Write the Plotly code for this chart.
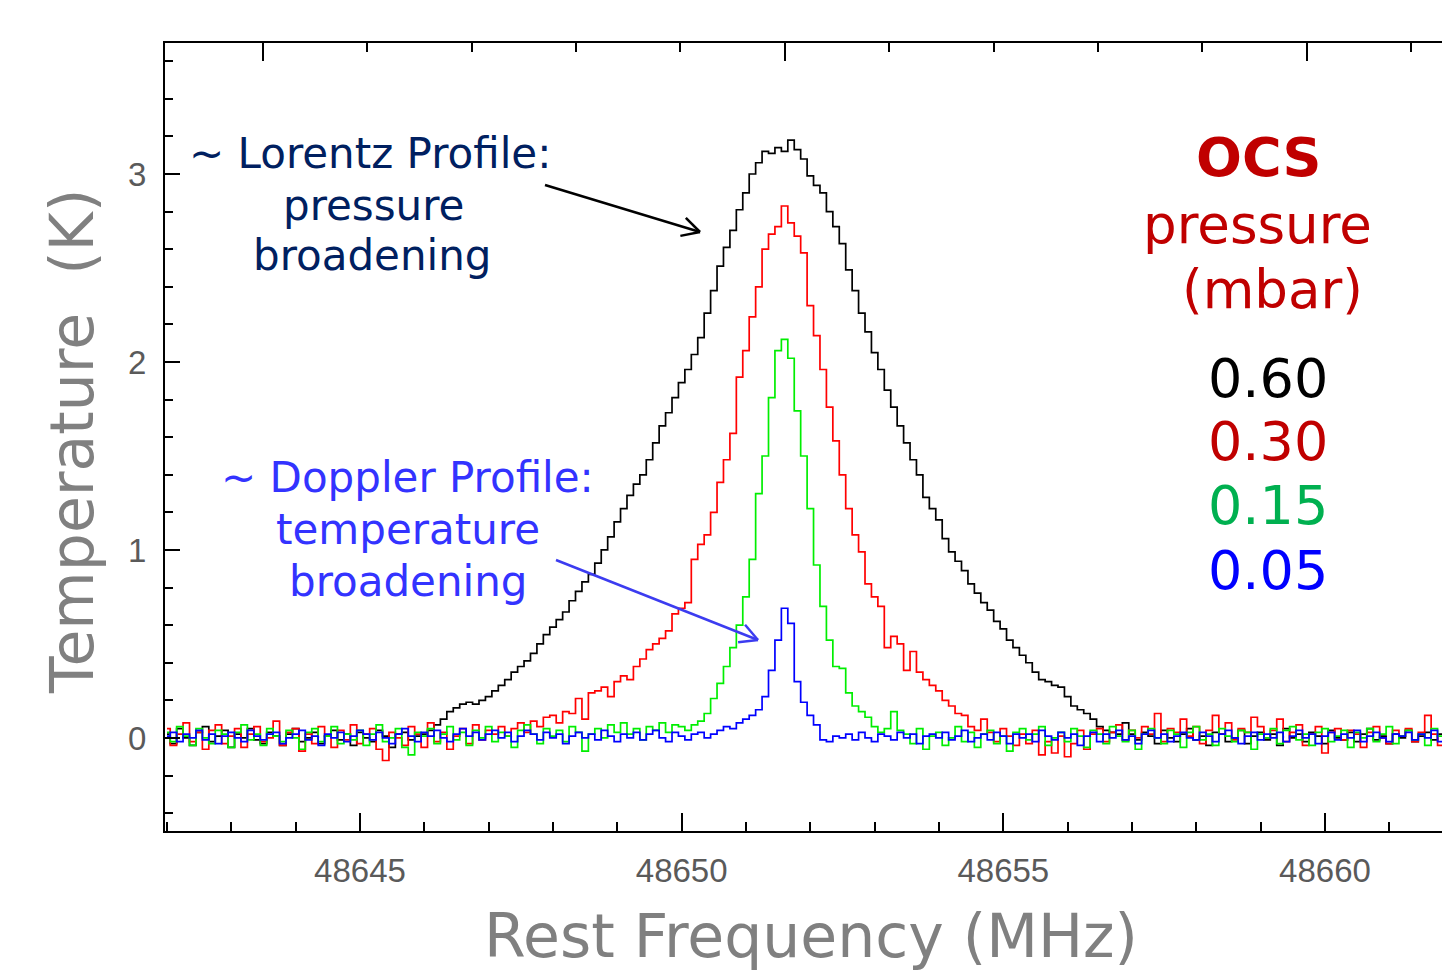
import math
import plotly.graph_objects as go

# ---------------- data ----------------
freq_start = 48642.0      # MHz, first channel
channel_width = 0.1       # MHz
rest_freq = 48651.604     # MHz, OCS line (top velocity axis reference)
c_kms = 299792.458

# 0.60 mbar (black)
black_060 = [
    # 48642.0 - 48645.9 baseline
    0.02, -0.03, 0.05, 0.00, -0.04, 0.03, 0.06, -0.02, 0.01, 0.04,
    -0.05, 0.02, 0.00, 0.05, -0.01, -0.03, 0.03, 0.01, -0.04, 0.02,
    0.05, -0.02, 0.00, 0.03, -0.03, 0.01, 0.04, -0.01, 0.02, -0.04,
    0.03, 0.00, -0.02, 0.04, 0.01, -0.05, 0.02, 0.03, -0.01, 0.01,
    # 48646.0 - 48657.0 line
    0.02, 0.04, 0.07, 0.10, 0.14, 0.16, 0.18, 0.19, 0.18, 0.20,
    0.22, 0.25, 0.28, 0.31, 0.35, 0.38, 0.41, 0.45, 0.50, 0.55,
    0.59, 0.63, 0.67, 0.73, 0.78, 0.83, 0.87, 0.93, 1.00, 1.07,
    1.15, 1.22, 1.29, 1.35, 1.40, 1.48, 1.57, 1.66, 1.73, 1.81,
    1.89, 1.96, 2.04, 2.13, 2.26, 2.38, 2.51, 2.61, 2.70, 2.81,
    2.90, 3.00, 3.06, 3.12, 3.11, 3.14, 3.12, 3.18, 3.13, 3.08,
    2.99, 2.94, 2.90, 2.80, 2.72, 2.63, 2.49, 2.38, 2.26, 2.16,
    2.05, 1.96, 1.85, 1.76, 1.66, 1.57, 1.48, 1.40, 1.28, 1.22,
    1.16, 1.06, 0.99, 0.94, 0.89, 0.82, 0.77, 0.72, 0.68, 0.62,
    0.58, 0.52, 0.48, 0.44, 0.40, 0.35, 0.31, 0.30, 0.28, 0.27,
    0.22, 0.17, 0.15, 0.13, 0.10, 0.06, 0.04, 0.03, 0.02, 0.08,
    0.02,
    # 48657.1 - 48661.9 baseline
    -0.01, 0.03, 0.01, -0.03, 0.04, 0.00, -0.02, 0.02, 0.05, -0.01,
    0.01, -0.04, 0.03, 0.02, -0.02, 0.00, 0.04, -0.03, 0.01, 0.03,
    -0.01, 0.02, -0.04, 0.05, 0.00, 0.02, -0.02, 0.03, 0.01, -0.03,
    0.04, 0.00, -0.01, 0.03, -0.02, 0.02, 0.05, -0.01, 0.01, -0.03,
    0.02, 0.00, 0.04, -0.02, 0.01, 0.03, -0.01, 0.02, 0.00,
]

# 0.30 mbar (red)
red_030 = [
    # 48642.0 - 48646.9 baseline
    0.05, -0.04, 0.02, 0.08, -0.02, 0.03, -0.06, 0.04, 0.07, -0.03,
    0.01, 0.05, -0.05, 0.02, 0.06, -0.02, 0.00, 0.09, -0.04, 0.03,
    0.05, -0.07, 0.02, -0.03, 0.06, 0.01, -0.05, 0.04, -0.01, 0.07,
    -0.03, 0.02, 0.05, -0.06, -0.12, 0.03, 0.00, -0.04, 0.06, 0.02,
    -0.05, 0.08, -0.02, 0.03, -0.06, 0.01, 0.05, -0.03, 0.07, -0.01,
    # 48647.0 - 48654.7 line
    0.04, 0.02, 0.06, 0.01, 0.05, 0.08, 0.03, 0.09, 0.06, 0.11,
    0.12, 0.08, 0.14, 0.13, 0.21, 0.10, 0.24, 0.25, 0.27, 0.22,
    0.30, 0.33, 0.31, 0.38, 0.42, 0.47, 0.50, 0.53, 0.57, 0.66,
    0.69, 0.72, 0.95, 1.03, 1.08, 1.20, 1.36, 1.48, 1.62, 1.92,
    2.06, 2.24, 2.40, 2.60, 2.68, 2.72, 2.83, 2.74, 2.67, 2.58,
    2.30, 2.14, 1.96, 1.76, 1.58, 1.40, 1.22, 1.08, 0.99, 0.82,
    0.75, 0.70, 0.48, 0.54, 0.50, 0.36, 0.46, 0.35, 0.31, 0.28,
    0.25, 0.20, 0.17, 0.13, 0.12, 0.06, 0.04, 0.10,
    # 48654.8 - 48661.9 baseline
    0.03, -0.02, 0.05, 0.01, -0.04, 0.02, -0.03, 0.04, -0.09, -0.02,
    -0.08, 0.01, -0.10, -0.03, 0.04, -0.06, 0.02, 0.05, -0.02, 0.03,
    0.07, -0.01, 0.04, 0.00, 0.06, 0.02, 0.13, -0.02, 0.05, 0.03,
    0.10, 0.01, 0.06, -0.03, 0.04, 0.12, 0.02, 0.08, -0.01, 0.05,
    0.03, 0.11, 0.06, 0.00, 0.04, 0.10, -0.02, 0.03, 0.07, -0.04,
    0.02, 0.06, -0.08, 0.03, 0.05, -0.01, 0.04, 0.02, -0.05, 0.03,
    0.06, 0.00, -0.03, 0.04, 0.01, 0.05, -0.02, 0.03, 0.12, 0.02,
    -0.04, 0.03,
]

# 0.15 mbar (green)
green_015 = [
    # 48642.0 - 48649.9 baseline
    0.03, -0.02, 0.06, 0.01, -0.04, 0.05, 0.00, -0.03, 0.04, 0.02,
    -0.05, 0.03, 0.07, -0.01, 0.02, -0.04, 0.05, 0.01, -0.02, 0.04,
    0.00, -0.06, 0.03, 0.05, -0.02, 0.01, 0.06, -0.03, 0.02, -0.01,
    0.04, -0.04, 0.02, 0.07, -0.02, 0.00, 0.05, -0.05, -0.09, 0.03,
    0.01, 0.05, -0.03, 0.02, 0.06, -0.01, 0.03, -0.04, 0.04, 0.00,
    0.06, -0.02, 0.03, 0.01, -0.05, 0.04, 0.07, 0.02, -0.03, 0.05,
    0.01, 0.04, -0.02, 0.06, 0.03, -0.07, 0.02, 0.05, 0.00, 0.07,
    0.03, 0.08, 0.02, 0.05, -0.01, 0.06, 0.04, 0.08, 0.03, 0.07,
    # 48650.0 - 48653.4 line
    0.06, 0.04, 0.07, 0.09, 0.13, 0.21, 0.29, 0.38, 0.48, 0.60,
    0.75, 0.95, 1.30, 1.50, 1.81, 2.06, 2.12, 2.02, 1.74, 1.50,
    1.22, 0.92, 0.70, 0.52, 0.38, 0.37, 0.24, 0.17, 0.14, 0.11,
    0.06, 0.03, 0.05, 0.14, 0.04,
    # 48653.5 - 48661.9 baseline
    0.02, -0.03, 0.05, -0.06, 0.01, 0.03, -0.04, 0.00, 0.06, -0.02,
    0.03, -0.05, 0.02, 0.04, -0.03, 0.01, -0.07, 0.03, 0.05, -0.01,
    0.02, 0.06, -0.04, 0.00, 0.03, -0.02, 0.05, 0.01, -0.05, 0.04,
    0.02, -0.03, 0.06, 0.01, -0.02, 0.04, -0.06, 0.02, 0.05, 0.00,
    -0.03, 0.04, 0.02, -0.05, 0.03, 0.06, -0.01, 0.02, -0.04, 0.05,
    0.01, -0.02, 0.04, 0.03, -0.06, 0.02, 0.00, 0.05, -0.03, 0.04,
    0.06, -0.01, 0.02, -0.04, 0.03, 0.05, -0.02, 0.01, 0.04, -0.05,
    0.03, 0.00, 0.05, -0.02, 0.02, 0.06, -0.03, 0.01, 0.04, -0.01,
    0.02, -0.04, 0.05, 0.01, 0.03,
]

# 0.05 mbar (blue)
blue_005 = [
    # 48642.0 - 48650.5 baseline
    0.01, 0.03, -0.02, 0.02, 0.00, 0.04, -0.01, 0.02, -0.03, 0.01,
    0.03, 0.00, -0.02, 0.04, 0.01, -0.01, 0.02, 0.03, -0.03, 0.00,
    0.02, 0.04, -0.01, 0.01, -0.04, 0.02, 0.00, 0.03, -0.02, 0.01,
    0.04, 0.02, -0.01, 0.03, 0.00, -0.03, 0.02, 0.05, 0.01, -0.02,
    0.03, 0.01, 0.04, 0.00, -0.02, 0.02, 0.05, 0.01, 0.03, -0.01,
    0.02, 0.04, 0.00, 0.03, -0.02, 0.01, 0.04, 0.02, -0.01, 0.03,
    0.00, 0.02, -0.03, 0.01, 0.03, 0.00, 0.02, -0.01, 0.04, 0.01,
    -0.02, 0.02, 0.00, 0.03, -0.01, 0.02, 0.04, 0.00, -0.02, 0.03,
    0.01, -0.01, 0.02, 0.03, 0.00, 0.02,
    # 48650.6 - 48652.2 line
    0.04, 0.06, 0.05, 0.08, 0.10, 0.12, 0.15, 0.22, 0.36, 0.52,
    0.69, 0.61, 0.30, 0.19, 0.12, 0.07, -0.01,
    # 48652.3 - 48661.9 baseline
    -0.02, 0.01, 0.00, 0.02, -0.01, 0.03, 0.00, -0.02, 0.02, 0.01,
    -0.01, 0.03, 0.00, 0.02, -0.03, 0.01, 0.02, 0.00, 0.03, -0.01,
    0.01, 0.04, -0.02, 0.00, 0.02, -0.01, 0.03, 0.01, -0.03, 0.02,
    0.00, 0.02, -0.02, 0.04, 0.01, -0.01, 0.03, 0.00, 0.02, -0.04,
    0.01, 0.03, -0.02, 0.02, 0.00, 0.04, -0.01, 0.01, -0.03, 0.02,
    0.04, 0.00, 0.02, -0.02, 0.01, 0.03, 0.00, -0.01, 0.03, 0.01,
    -0.02, 0.02, 0.04, 0.00, -0.03, 0.01, 0.03, -0.01, 0.02, 0.00,
    0.03, -0.02, 0.01, 0.04, 0.00, 0.02, -0.03, 0.01, 0.03, -0.01,
    0.02, 0.00, 0.04, -0.02, 0.01, 0.03, 0.00, -0.02, 0.02, 0.01,
    0.03, -0.01, 0.02, 0.00, 0.04, -0.02, 0.01,
]

pressures = ["0.60", "0.30", "0.15", "0.05"]
x_ticks = [48645, 48650, 48655, 48660]
y_ticks = [0, 1, 2, 3]

n = len(black_060)
for s in (red_030, green_015, blue_005):
    assert len(s) == n, len(s)
freq = [round(freq_start + channel_width * i, 3) for i in range(n)]

# ---------------- layout geometry ----------------
W, H = 1442, 973
ML, MR, MT, MB = 165, 0, 43, 142
x_range = [48641.969, 48661.819]
y_range = [-0.495, 3.697]
# top axis: velocity (km/s) matching the frequency range
v_range = [c_kms * (rest_freq - f) / rest_freq for f in x_range]


def px(xp):
    return (xp - ML) / (W - ML - MR)


def py(yp):
    return (H - MB - yp) / (H - MB - MT)


series = [
    (black_060, "#000000"),
    (red_030, "#ff0000"),
    (green_015, "#00ee00"),
    (blue_005, "#0000ff"),
]

fig = go.Figure()
for (vals, col), p in zip(series, pressures):
    fig.add_trace(go.Scatter(
        x=freq, y=vals, mode="lines", name=p + " mbar",
        line=dict(color=col, width=1.7, shape="hvh"),
        showlegend=False, hoverinfo="skip",
    ))
# invisible trace to anchor the top (velocity) axis
fig.add_trace(go.Scatter(x=v_range, y=[0, 0], xaxis="x2", mode="lines",
                         line=dict(width=0), showlegend=False,
                         hoverinfo="skip", opacity=0))

FONT = "DejaVu Sans"
TICKFONT = dict(family="Liberation Sans", size=33, color="#5a5a5a")

fig.update_layout(
    width=W, height=H,
    margin=dict(l=ML, r=MR, t=MT, b=MB, pad=0),
    paper_bgcolor="white", plot_bgcolor="white",
    showlegend=False,
    xaxis=dict(
        range=x_range, showgrid=False, zeroline=False,
        showline=True, linecolor="black", linewidth=2, mirror=False,
        ticks="inside", ticklen=18, tickwidth=1.5, tickcolor="black",
        tickvals=x_ticks, ticktext=[str(v) for v in x_ticks],
        minor=dict(ticks="inside", ticklen=9, tickwidth=1.5,
                   tickcolor="black", dtick=1, tick0=48645, showgrid=False),
        tickfont=TICKFONT, ticklabelstandoff=9,
    ),
    xaxis2=dict(
        overlaying="x", side="top", anchor="y",
        range=v_range, showgrid=False, zeroline=False,
        showline=True, linecolor="black", linewidth=2,
        ticks="inside", ticklen=18, tickwidth=1.5, tickcolor="black",
        tick0=0, dtick=50, showticklabels=False,
        minor=dict(ticks="inside", ticklen=9, tickwidth=1.5,
                   tickcolor="black", dtick=10, tick0=0, showgrid=False),
    ),
    yaxis=dict(
        range=y_range, showgrid=False, zeroline=False,
        showline=True, linecolor="black", linewidth=2, mirror=False,
        ticks="inside", ticklen=15, tickwidth=1.5, tickcolor="black",
        tickvals=y_ticks, ticktext=[str(v) for v in y_ticks],
        minor=dict(ticks="inside", ticklen=8, tickwidth=1.5,
                   tickcolor="black", dtick=0.2, tick0=0, showgrid=False),
        tickfont=TICKFONT, ticklabelstandoff=10,
    ),
)

ann = []


def text(s, xp, yp, size, color, bold=False, angle=0, xanchor="center"):
    ann.append(dict(
        text=("<b>%s</b>" % s) if bold else s,
        x=px(xp), y=py(yp), xref="paper", yref="paper",
        xanchor=xanchor, yanchor="middle", showarrow=False,
        textangle=angle,
        font=dict(family=FONT, size=size, color=color),
    ))


NAVY = "#002060"
DBLUE = "#3333ff"
DRED = "#c00000"

# Lorentz annotation
text("~ Lorentz Profile:", 370, 153, 42, NAVY)
text("pressure", 373, 205, 42, NAVY)
text("broadening", 372, 256, 42, NAVY)
# Doppler annotation
text("~ Doppler Profile:", 407, 478, 42, DBLUE)
text("temperature", 408, 529, 42, DBLUE)
text("broadening", 408, 581, 42, DBLUE)
# legend-like block
text("OCS", 1258, 158, 54, DRED, bold=True)
text("pressure", 1257, 224, 53, DRED)
text("(mbar)", 1272, 289, 53, DRED)
for p, (vals, col), yy in zip(pressures, series, [378, 442, 506, 570]):
    c = {"#ff0000": DRED, "#00ee00": "#00b050"}.get(col, col)
    text(p, 1268, yy, 54, c)
# axis titles
text("Temperature  (K)", 72, 442, 60, "#808080", angle=-90)
text("Rest Frequency (MHz)", 811, 936, 60, "#808080")

fig.update_layout(annotations=ann)

shapes = []


def arrow(x0, y0, x1, y1, color, width=2.5, head=20, ang=28):
    shapes.append(dict(type="line", xref="paper", yref="paper",
                       x0=px(x0), y0=py(y0), x1=px(x1), y1=py(y1),
                       line=dict(color=color, width=width)))
    dx, dy = x1 - x0, y1 - y0
    L = math.hypot(dx, dy)
    ux, uy = dx / L, dy / L
    for sgn in (1, -1):
        a = math.radians(ang) * sgn
        rx = ux * math.cos(a) - uy * math.sin(a)
        ry = ux * math.sin(a) + uy * math.cos(a)
        bx, by = x1 - head * rx, y1 - head * ry
        shapes.append(dict(type="line", xref="paper", yref="paper",
                           x0=px(bx), y0=py(by), x1=px(x1), y1=py(y1),
                           line=dict(color=color, width=width)))


arrow(545, 185, 700, 232, "#000000")
arrow(556, 560, 758, 640, "#3c3cf0")
fig.update_layout(shapes=shapes)

fig.write_html(
    "out.html",
    config={"displayModeBar": False},
    post_script="document.body.style.margin='0';document.body.style.padding='0';",
)
